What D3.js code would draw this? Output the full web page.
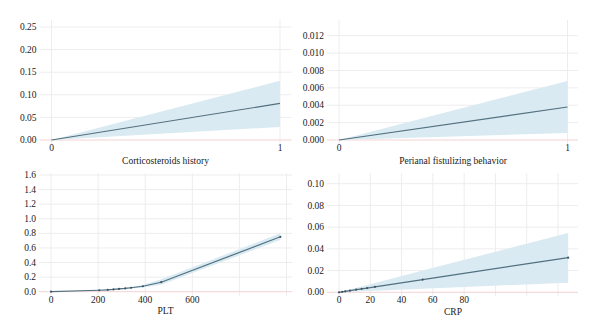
<!DOCTYPE html>
<html lang="en">
<head>
<meta charset="UTF-8">
<title>Spline effects</title>
<script src="https://cdn.jsdelivr.net/npm/d3@7"></script>
<style>
  body { margin: 0; background: #fff; }
  svg text { font-family: "Liberation Serif", "DejaVu Serif", serif; fill: #1a1a1a; }
</style>
</head>
<body>
<script>
// effect curves with confidence bands
var corticoX = [0, 1];
var corticoEst = [0, 0.081];
var corticoLow = [0, 0.029];
var corticoHigh = [0, 0.131];

var perianalX = [0, 1];
var perianalEst = [0, 0.0038];
var perianalLow = [0, 0.0008];
var perianalHigh = [0, 0.0068];

var pltX = [0, 205, 241, 265, 289, 315, 340, 390, 468, 974];
var pltEst = [0, 0.02, 0.026, 0.031, 0.038, 0.045, 0.054, 0.075, 0.13, 0.753];
var pltLow = [0, 0.015, 0.02, 0.024, 0.03, 0.036, 0.043, 0.058, 0.095, 0.71];
var pltHigh = [0, 0.025, 0.032, 0.038, 0.046, 0.055, 0.066, 0.092, 0.17, 0.8];

var crpX = [0, 2, 4, 7, 11, 14.5, 18, 23, 53.5, 146.5];
var crpEst = [0, 0.0004, 0.0009, 0.0015, 0.0024, 0.0032, 0.0039, 0.005, 0.0117, 0.0319];
var crpLow = [0, 0.0001, 0.0002, 0.0004, 0.0007, 0.0009, 0.0011, 0.0014, 0.0033, 0.0089];
var crpHigh = [0, 0.0008, 0.0015, 0.0026, 0.0041, 0.0054, 0.0067, 0.0086, 0.02, 0.0546];

var corticoYTicks = [0, 0.05, 0.10, 0.15, 0.20, 0.25];
var perianalYTicks = [0, 0.002, 0.004, 0.006, 0.008, 0.010, 0.012];
var pltYTicks = [0, 0.2, 0.4, 0.6, 0.8, 1.0, 1.2, 1.4, 1.6];
var crpYTicks = [0, 0.02, 0.04, 0.06, 0.08, 0.10];

var binaryXTicks = [0, 1];
var pltXGrid = [0, 200, 400, 600, 800, 1000];
var pltXLabels = [0, 200, 400, 600];
var crpXGrid = [0, 20, 40, 60, 80, 100, 120, 140];
var crpXLabels = [0, 20, 40, 60, 80];

var width = 600, height = 336;
var svg = d3.select("body").append("svg")
    .attr("width", width)
    .attr("height", height);

var panels = [
  { name: "Corticosteroids history", xs: corticoX, est: corticoEst, lo: corticoLow, hi: corticoHigh,
    xDomain: [0, 1], xRange: [51.5, 280], right: 291.5, top: 20,
    yDomain: [0, 0.25], yRange: [140, 27], yTicks: corticoYTicks, fmt: ".2f",
    xGrid: binaryXTicks, xLabels: binaryXTicks, tickY: 151, titleX: 165.5, titleY: 164, dots: false },
  { name: "Perianal fistulizing behavior", xs: perianalX, est: perianalEst, lo: perianalLow, hi: perianalHigh,
    xDomain: [0, 1], xRange: [339, 567.5], right: 578, top: 20,
    yDomain: [0, 0.012], yRange: [140, 35.7], yTicks: perianalYTicks, fmt: ".3f",
    xGrid: binaryXTicks, xLabels: binaryXTicks, tickY: 151, titleX: 453, titleY: 164, dots: false },
  { name: "PLT", xs: pltX, est: pltEst, lo: pltLow, hi: pltHigh,
    xDomain: [0, 1000], xRange: [51, 286.5], right: 292, top: 173,
    yDomain: [0, 1.6], yRange: [291.7, 175], yTicks: pltYTicks, fmt: ".1f",
    xGrid: pltXGrid, xLabels: pltXLabels, tickY: 303, titleX: 165.5, titleY: 314, dots: true },
  { name: "CRP", xs: crpX, est: crpEst, lo: crpLow, hi: crpHigh,
    xDomain: [0, 140], xRange: [339, 558], right: 578, top: 173,
    yDomain: [0, 0.10], yRange: [292.3, 183.7], yTicks: crpYTicks, fmt: ".2f",
    xGrid: crpXGrid, xLabels: crpXLabels, tickY: 303, titleX: 453, titleY: 315, dots: true }
];

panels.forEach(function(p) {
  var x = d3.scaleLinear().domain(p.xDomain).range(p.xRange);
  var y = d3.scaleLinear().domain(p.yDomain).range(p.yRange);
  var g = svg.append("g");
  var zeroY = y(0);
  var left = p.xRange[0] - 12;

  // horizontal grid, starting just right of the labels
  g.selectAll(".hg").data(p.yTicks.slice(1)).enter().append("line")
      .attr("x1", left).attr("x2", p.right)
      .attr("y1", function(d) { return y(d); })
      .attr("y2", function(d) { return y(d); })
      .attr("stroke", "#ededed").attr("stroke-width", 1);

  // vertical grid
  g.selectAll(".vg").data(p.xGrid).enter().append("line")
      .attr("x1", function(d) { return x(d); })
      .attr("x2", function(d) { return x(d); })
      .attr("y1", p.top).attr("y2", zeroY + 4)
      .attr("stroke", "#ededed").attr("stroke-width", 1);

  // zero line
  g.append("line")
      .attr("x1", left).attr("x2", p.right)
      .attr("y1", zeroY).attr("y2", zeroY)
      .attr("stroke", "#f3d3d3").attr("stroke-width", 1);

  var rows = p.xs.map(function(v, i) {
    return { x: v, est: p.est[i], lo: p.lo[i], hi: p.hi[i] };
  });

  var band = d3.area()
      .x(function(d) { return x(d.x); })
      .y0(function(d) { return y(d.lo); })
      .y1(function(d) { return y(d.hi); });
  g.append("path").datum(rows)
      .attr("d", band)
      .attr("fill", "#d9eaf2");

  var line = d3.line()
      .x(function(d) { return x(d.x); })
      .y(function(d) { return y(d.est); });
  g.append("path").datum(rows)
      .attr("d", line)
      .attr("fill", "none")
      .attr("stroke", "#52707f")
      .attr("stroke-width", 1.2);

  if (p.dots) {
    g.selectAll(".pt").data(rows).enter().append("circle")
        .attr("cx", function(d) { return x(d.x); })
        .attr("cy", function(d) { return y(d.est); })
        .attr("r", 1.1)
        .attr("fill", "#3d5563");
  }

  // y tick labels
  var f = d3.format(p.fmt);
  g.selectAll(".yl").data(p.yTicks).enter().append("text")
      .attr("x", left - 3)
      .attr("y", function(d) { return y(d); })
      .attr("dy", "0.33em")
      .attr("text-anchor", "end")
      .attr("font-size", "9.5px")
      .text(function(d) { return f(d); });

  // x tick labels
  g.selectAll(".xl").data(p.xLabels).enter().append("text")
      .attr("x", function(d) { return x(d); })
      .attr("y", p.tickY)
      .attr("text-anchor", "middle")
      .attr("font-size", "9.5px")
      .text(function(d) { return d; });

  g.append("text")
      .attr("x", p.titleX)
      .attr("y", p.titleY)
      .attr("text-anchor", "middle")
      .attr("font-size", "9.5px")
      .text(p.name);
});
</script>
</body>
</html>
